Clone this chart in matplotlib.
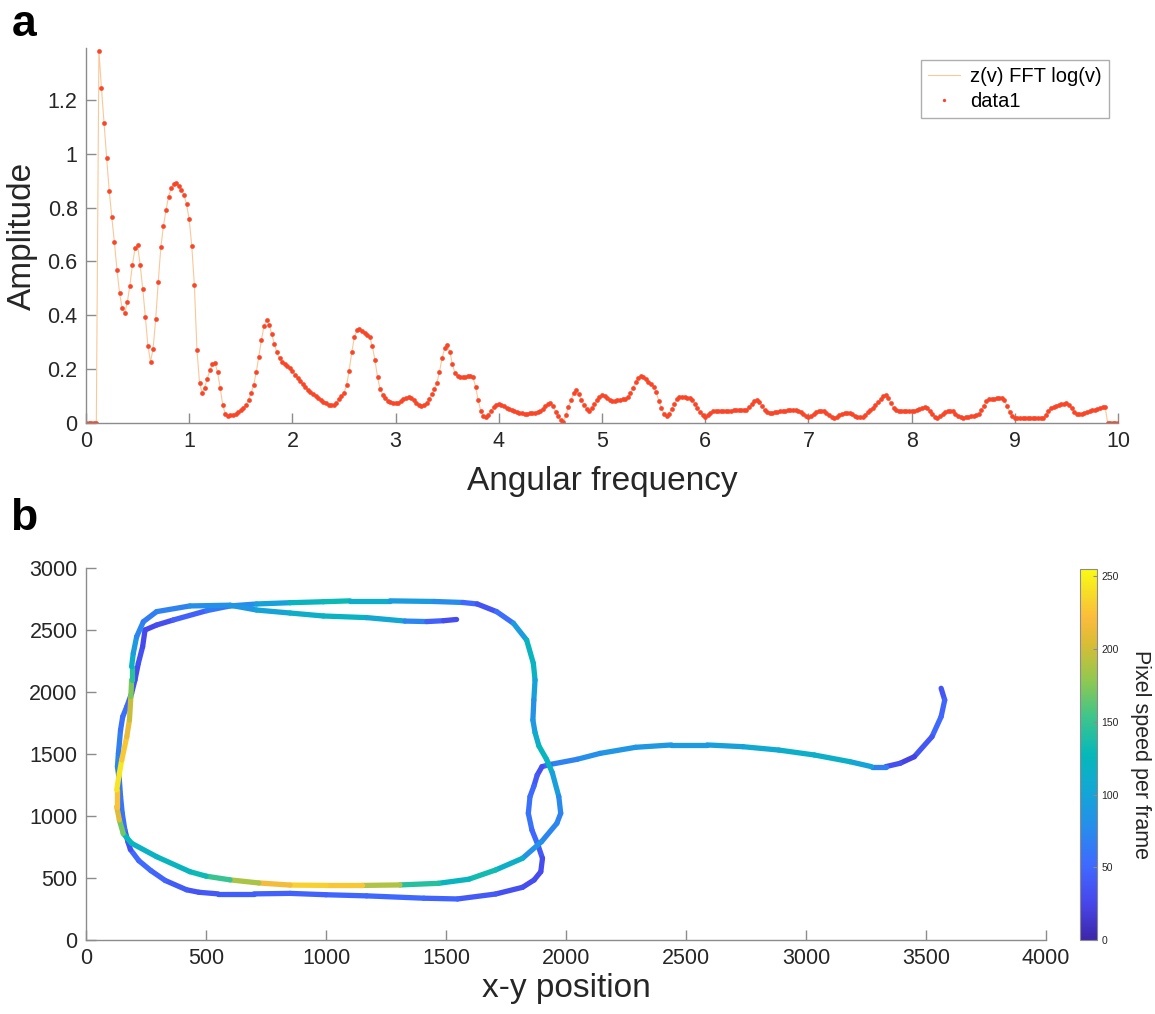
import matplotlib
matplotlib.use('Agg')
import matplotlib.pyplot as plt
import numpy as np
from matplotlib.collections import LineCollection
from matplotlib.colors import LinearSegmentedColormap, Normalize

plt.rcParams['font.family'] = ['Liberation Sans', 'DejaVu Sans']

# ---- panel a: FFT amplitude, sampled every 0.025 rad ----
freq_step = 0.025
amp = [0.0, 0.0, 0.0, 0.0, 0.0,
       1.383, 1.243, 1.114, 0.985, 0.863, 0.764, 0.672, 0.570, 0.483, 0.428,
       0.408, 0.448, 0.510, 0.588, 0.649, 0.660, 0.587, 0.498, 0.395, 0.286,
       0.228, 0.275, 0.385, 0.523, 0.652, 0.731, 0.791, 0.841, 0.872, 0.886,
       0.890, 0.882, 0.867, 0.846, 0.812, 0.756, 0.657, 0.513, 0.273, 0.150,
       0.113, 0.131, 0.165, 0.196, 0.220, 0.223, 0.188, 0.131, 0.067, 0.033,
       0.026, 0.028, 0.031, 0.035, 0.040, 0.047, 0.055, 0.066, 0.086, 0.112,
       0.142, 0.190, 0.247, 0.310, 0.360, 0.383, 0.365, 0.330, 0.294, 0.262,
       0.240, 0.228, 0.220, 0.212, 0.204, 0.193, 0.180, 0.168, 0.155, 0.144,
       0.133, 0.124, 0.115, 0.108, 0.100, 0.094, 0.087, 0.079, 0.073, 0.067,
       0.066, 0.067, 0.076, 0.089, 0.100, 0.113, 0.140, 0.195, 0.262, 0.318,
       0.345, 0.348, 0.342, 0.336, 0.328, 0.318, 0.285, 0.234, 0.170, 0.125,
       0.105, 0.092, 0.083, 0.078, 0.074, 0.073, 0.076, 0.082, 0.089, 0.094,
       0.095, 0.092, 0.084, 0.075, 0.067, 0.063, 0.066, 0.076, 0.090, 0.106,
       0.125, 0.150, 0.190, 0.240, 0.278, 0.290, 0.265, 0.220, 0.185, 0.173,
       0.172, 0.172, 0.172, 0.173, 0.173, 0.170, 0.135, 0.085, 0.045, 0.027,
       0.021, 0.030, 0.045, 0.058, 0.067, 0.071, 0.068, 0.062, 0.057, 0.052,
       0.048, 0.045, 0.041, 0.038, 0.036, 0.035, 0.035, 0.036, 0.037, 0.039,
       0.041, 0.045, 0.052, 0.062, 0.071, 0.073, 0.062, 0.042, 0.025, 0.010,
       0.005, 0.028, 0.060, 0.085, 0.112, 0.122, 0.108, 0.085, 0.068, 0.053,
       0.046, 0.055, 0.070, 0.085, 0.097, 0.104, 0.100, 0.092, 0.086, 0.083,
       0.083, 0.084, 0.086, 0.088, 0.091, 0.097, 0.110, 0.130, 0.152, 0.168,
       0.175, 0.172, 0.164, 0.154, 0.145, 0.135, 0.115, 0.083, 0.055, 0.035,
       0.026, 0.035, 0.052, 0.072, 0.090, 0.098, 0.097, 0.096, 0.094, 0.092,
       0.086, 0.072, 0.055, 0.040, 0.030, 0.024, 0.030, 0.038, 0.043, 0.045,
       0.045, 0.046, 0.046, 0.046, 0.046, 0.046, 0.047, 0.047, 0.047, 0.048,
       0.048, 0.050, 0.058, 0.070, 0.081, 0.085, 0.078, 0.062, 0.048, 0.040,
       0.038, 0.039, 0.041, 0.042, 0.044, 0.046, 0.046, 0.047, 0.047, 0.048,
       0.048, 0.046, 0.040, 0.032, 0.025, 0.021, 0.026, 0.034, 0.040, 0.045,
       0.046, 0.043, 0.036, 0.028, 0.022, 0.020, 0.023, 0.029, 0.034, 0.037,
       0.038, 0.036, 0.032, 0.027, 0.023, 0.021, 0.022, 0.030, 0.040, 0.049,
       0.057, 0.066, 0.078, 0.090, 0.100, 0.104, 0.093, 0.073, 0.055, 0.047,
       0.045, 0.044, 0.044, 0.043, 0.043, 0.043, 0.044, 0.048, 0.053, 0.057,
       0.058, 0.055, 0.045, 0.033, 0.024, 0.020, 0.025, 0.033, 0.040, 0.045,
       0.046, 0.043, 0.035, 0.027, 0.022, 0.020, 0.021, 0.023, 0.025, 0.027,
       0.029, 0.035, 0.048, 0.065, 0.080, 0.088, 0.090, 0.091, 0.092, 0.093,
       0.093, 0.085, 0.062, 0.040, 0.025, 0.020, 0.019, 0.019, 0.018, 0.018,
       0.018, 0.018, 0.018, 0.018, 0.018, 0.018, 0.019, 0.030, 0.045, 0.056,
       0.061, 0.065, 0.068, 0.070, 0.072, 0.073, 0.068, 0.055, 0.042, 0.035,
       0.033, 0.035, 0.038, 0.041, 0.044, 0.047, 0.050, 0.053, 0.056, 0.059,
       0.061,
       0.0, 0.0, 0.0, 0.0, 0.0]
freq = np.arange(len(amp)) * freq_step
amp_ticks = [0, 0.2, 0.4, 0.6, 0.8, 1.0, 1.2]
amp_ticklabels = ['0', '0.2', '0.4', '0.6', '0.8', '1', '1.2']

# ---- panel b: tracked path, colour = speed ----
traj_x = [3563, 3578, 3563, 3525, 3451, 3392, 3332, 3273, 3183, 3035, 2886, 2737,
          2588, 2439, 2290, 2142, 2046, 1935, 1900,
          1880, 1866, 1850, 1843, 1858, 1883, 1902, 1895, 1867, 1819, 1707, 1548,
          1408, 1169, 1000, 850, 700, 550, 470, 419, 330, 270, 220, 185, 175,
          162, 151, 144, 139, 131, 135, 144, 153, 170, 190, 204, 218, 236, 246,
          294, 364, 503, 600, 711, 850, 989, 1100, 1267, 1450, 1570, 1630,
          1711, 1781, 1836, 1864, 1871, 1866, 1862, 1871, 1887, 1919, 1943, 1970,
          1978, 1962, 1898, 1819, 1707, 1595, 1468, 1308, 1150, 1000, 850, 720,
          600, 500, 433, 294, 190, 155, 139, 128, 128, 139, 149, 170, 181, 187,
          190, 190, 197, 211, 239,
          294, 433, 600, 711, 850, 989, 1169, 1329, 1420, 1490, 1544]
traj_y = [2030, 1935, 1801, 1640, 1478, 1425, 1398, 1398, 1438, 1492, 1532, 1559,
          1573, 1573, 1554, 1505, 1457, 1416, 1398,
          1330, 1240, 1156, 1022, 887, 766, 659, 551, 484, 425, 371, 331,
          337, 356, 365, 376, 372, 372, 385, 405, 480, 560, 640, 730, 790,
          887, 1022, 1156, 1290, 1398, 1505, 1694, 1801, 1882, 1989, 2097, 2231, 2366, 2500,
          2540, 2581, 2656, 2694, 2710, 2720, 2728, 2735, 2735, 2730, 2722, 2710,
          2648, 2554, 2419, 2231, 2097, 1935, 1774, 1673, 1565, 1457, 1349, 1156,
          1022, 941, 793, 659, 565, 490, 457, 444, 440, 440, 443, 460,
          485, 515, 551, 672, 780, 860, 968, 1075, 1210, 1344, 1452, 1640, 1774, 1962,
          2097, 2204, 2312, 2446, 2567,
          2648, 2694, 2700, 2661, 2637, 2613, 2600, 2572, 2568, 2575, 2585]
traj_speed = [30, 45, 50, 50, 25, 20, 45, 90, 110, 118, 112, 100,
              92, 88, 88, 85, 75, 65, 30,
              35, 45, 55, 60, 58, 45, 32, 28, 28, 30, 35, 45,
              50, 50, 48, 45, 45, 42, 35, 38, 45, 50, 55, 45, 20,
              55, 60, 60, 62, 70, 75, 60, 55, 55, 45, 22, 35, 30, 25,
              28, 35, 55, 70, 85, 110, 135, 125, 100, 85, 70, 30,
              40, 70, 115, 130, 110, 85, 80, 100, 120, 130, 110, 80,
              70, 70, 75, 90, 140, 125, 120, 165, 215, 240, 225, 210,
              165, 135, 125, 120, 115, 140, 200, 215, 235, 250, 240, 215, 210, 185,
              160, 130, 100, 80, 65,
              65, 75, 85, 90, 110, 120, 120, 90, 55, 35, 25]

# parula-like colormap
parula = LinearSegmentedColormap.from_list('parula', [
    (0.00, (0.242, 0.150, 0.660)), (0.10, (0.281, 0.278, 0.925)),
    (0.20, (0.247, 0.412, 0.998)), (0.30, (0.156, 0.549, 0.927)),
    (0.40, (0.076, 0.652, 0.838)), (0.50, (0.023, 0.722, 0.727)),
    (0.60, (0.240, 0.770, 0.550)), (0.70, (0.560, 0.785, 0.315)),
    (0.80, (0.850, 0.740, 0.210)), (0.87, (0.985, 0.735, 0.235)),
    (0.94, (0.970, 0.870, 0.150)), (1.00, (0.977, 0.984, 0.080))])

W, H = 1155, 1014
fig = plt.figure(figsize=(W / 100, H / 100), dpi=100)

def px_box(l, t, r, b):
    return [l / W, 1 - b / H, (r - l) / W, (b - t) / H]

def style_axes(ax):
    for s in ['top', 'right']:
        ax.spines[s].set_visible(False)
    for s in ['left', 'bottom']:
        ax.spines[s].set_color('#8c8c8c')
        ax.spines[s].set_linewidth(1.0)
    ax.tick_params(direction='in', length=7, width=1, color='#8c8c8c',
                   labelsize=15.5, labelcolor='#262626', pad=6)

ax1 = fig.add_axes(px_box(86, 48, 1118, 423))
ax1.plot(freq, amp, color='#f9c898', lw=0.8, label='z(v) FFT log(v)')
ax1.plot(freq, amp, linestyle='none', marker='o', ms=3.4, mew=0,
         color='#fa4628', label='data1')
ax1.set_xlim(0, 10)
ax1.set_ylim(0, 1.393)
ax1.set_xticks(range(0, 11))
ax1.set_yticks(amp_ticks)
ax1.set_yticklabels(amp_ticklabels)
style_axes(ax1)
ax1.set_xlabel('Angular frequency', fontsize=24, color='#262626', labelpad=10)
ax1.set_ylabel('Amplitude', fontsize=24, color='#262626', labelpad=7)
leg = ax1.legend(loc='upper right', bbox_to_anchor=(1109 / W, 1 - 60 / H),
                 bbox_transform=fig.transFigure, fontsize=14.5, frameon=True,
                 fancybox=False, edgecolor='#9a9a9a', borderaxespad=0,
                 handlelength=1.6, handletextpad=0.5, labelspacing=0.3,
                 borderpad=0.35, markerscale=0.7)
leg.get_frame().set_linewidth(1.0)

ax2 = fig.add_axes(px_box(86, 568, 1046, 940))
norm = Normalize(0, 255)
pts = np.column_stack([traj_x, traj_y])
segs = np.stack([pts[:-1], pts[1:]], axis=1)
spd = np.asarray(traj_speed, dtype=float)
lc = LineCollection(segs, cmap=parula, norm=norm, linewidth=3.8, capstyle='round')
lc.set_array((spd[:-1] + spd[1:]) / 2)
ax2.add_collection(lc)
ax2.set_xlim(0, 4000)
ax2.set_ylim(0, 3000)
ax2.set_xticks(range(0, 4001, 500))
ax2.set_yticks(range(0, 3001, 500))
style_axes(ax2)
ax2.set_xlabel('x-y position', fontsize=24, color='#262626', labelpad=3)

cax = fig.add_axes(px_box(1080, 569, 1097, 940))
cb = fig.colorbar(lc, cax=cax)
cb.set_ticks([0, 50, 100, 150, 200, 250])
cb.outline.set_edgecolor('#8c8c8c')
cb.outline.set_linewidth(0.8)
cax.tick_params(direction='in', length=3, width=0.8, color='#8c8c8c',
                labelsize=7.5, labelcolor='#262626', pad=3)
fig.text(1141 / W, 1 - 754 / H, 'Pixel speed per frame', rotation=270,
         fontsize=15.5, color='#262626', ha='center', va='center')

fig.text(12 / W, 1 - 36 / H, 'a', fontsize=32, fontweight='bold', va='baseline')
fig.text(10 / W, 1 - 530 / H, 'b', fontsize=32, fontweight='bold', va='baseline')

fig.savefig('out.png', dpi=100)
